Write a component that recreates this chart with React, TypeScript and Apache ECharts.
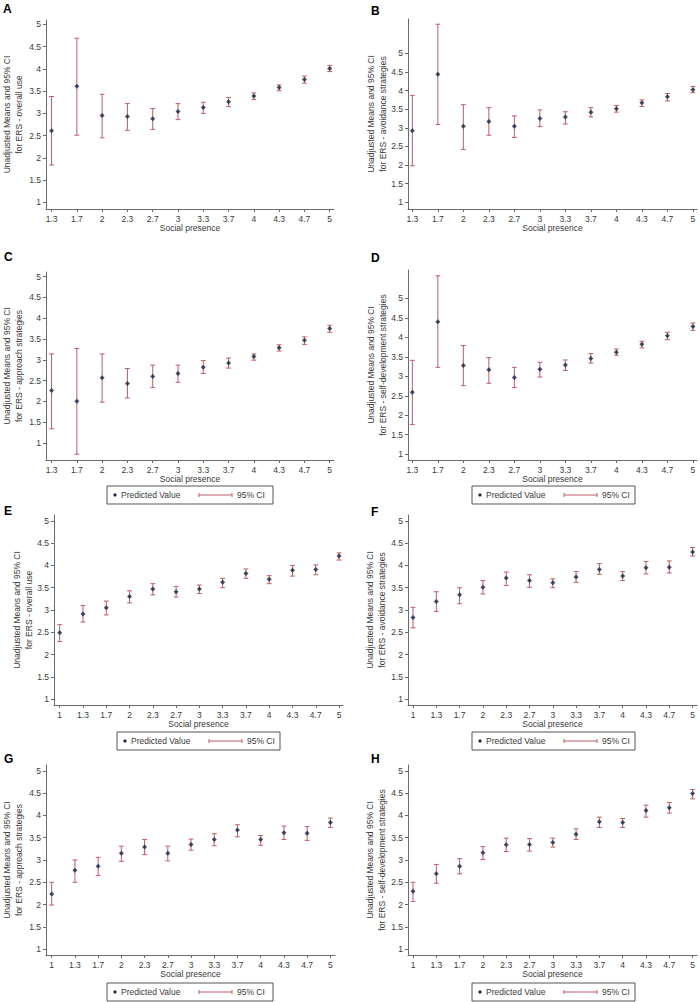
import React, { useEffect, useRef } from "react";
import * as echarts from "echarts";

const CATS_AD = ["1.3", "1.7", "2", "2.3", "2.7", "3", "3.3", "3.7", "4", "4.3", "4.7", "5"];
const CATS_EH = ["1", "1.3", "1.7", "2", "2.3", "2.7", "3", "3.3", "3.7", "4", "4.3", "4.7", "5"];
const Y_TICKS = [1, 1.5, 2, 2.5, 3, 3.5, 4, 4.5, 5];

const A_MEAN = [2.61, 3.61, 2.95, 2.93, 2.88, 3.04, 3.13, 3.26, 3.39, 3.58, 3.76, 4.01];
const A_LOW = [1.84, 2.51, 2.45, 2.62, 2.64, 2.86, 3.0, 3.15, 3.31, 3.51, 3.68, 3.94];
const A_HIGH = [3.38, 4.69, 3.43, 3.22, 3.11, 3.22, 3.25, 3.36, 3.46, 3.64, 3.84, 4.08];

const B_MEAN = [2.92, 4.44, 3.04, 3.17, 3.04, 3.25, 3.29, 3.42, 3.51, 3.67, 3.83, 4.02];
const B_LOW = [1.98, 3.09, 2.42, 2.8, 2.74, 3.03, 3.1, 3.29, 3.42, 3.57, 3.72, 3.94];
const B_HIGH = [3.87, 5.78, 3.62, 3.54, 3.32, 3.48, 3.43, 3.54, 3.6, 3.75, 3.92, 4.11];

const C_MEAN = [2.26, 2.0, 2.57, 2.43, 2.6, 2.67, 2.82, 2.92, 3.08, 3.29, 3.47, 3.75];
const C_LOW = [1.34, 0.73, 1.98, 2.08, 2.33, 2.46, 2.67, 2.8, 2.99, 3.21, 3.37, 3.66];
const C_HIGH = [3.14, 3.27, 3.14, 2.79, 2.87, 2.87, 2.98, 3.04, 3.14, 3.36, 3.55, 3.83];

const D_MEAN = [2.59, 4.4, 3.28, 3.17, 2.97, 3.18, 3.29, 3.46, 3.62, 3.82, 4.04, 4.28];
const D_LOW = [1.76, 3.23, 2.76, 2.82, 2.71, 2.98, 3.15, 3.34, 3.54, 3.73, 3.94, 4.18];
const D_HIGH = [3.41, 5.58, 3.79, 3.48, 3.23, 3.36, 3.42, 3.58, 3.7, 3.9, 4.13, 4.37];

const E_MEAN = [2.49, 2.91, 3.05, 3.3, 3.47, 3.41, 3.47, 3.62, 3.82, 3.69, 3.89, 3.91, 4.21];
const E_LOW = [2.29, 2.73, 2.89, 3.16, 3.34, 3.29, 3.37, 3.5, 3.71, 3.59, 3.76, 3.79, 4.12];
const E_HIGH = [2.67, 3.1, 3.2, 3.43, 3.59, 3.53, 3.56, 3.71, 3.92, 3.77, 4.0, 4.01, 4.28];

const F_MEAN = [2.83, 3.19, 3.34, 3.51, 3.72, 3.66, 3.61, 3.74, 3.91, 3.76, 3.95, 3.96, 4.3];
const F_LOW = [2.6, 2.97, 3.14, 3.36, 3.55, 3.51, 3.5, 3.62, 3.8, 3.66, 3.81, 3.83, 4.21];
const F_HIGH = [3.06, 3.41, 3.5, 3.66, 3.85, 3.79, 3.7, 3.86, 4.04, 3.86, 4.09, 4.1, 4.4];

const G_MEAN = [2.24, 2.77, 2.86, 3.15, 3.29, 3.15, 3.35, 3.46, 3.67, 3.46, 3.61, 3.6, 3.84];
const G_LOW = [1.99, 2.5, 2.65, 2.97, 3.12, 2.98, 3.22, 3.32, 3.52, 3.33, 3.46, 3.44, 3.73];
const G_HIGH = [2.5, 3.0, 3.06, 3.31, 3.46, 3.31, 3.47, 3.59, 3.79, 3.55, 3.76, 3.75, 3.94];

const H_MEAN = [2.3, 2.69, 2.86, 3.16, 3.34, 3.35, 3.39, 3.58, 3.86, 3.84, 4.11, 4.17, 4.49];
const H_LOW = [2.07, 2.48, 2.69, 3.01, 3.19, 3.2, 3.29, 3.46, 3.73, 3.73, 3.96, 4.05, 4.37];
const H_HIGH = [2.5, 2.9, 3.03, 3.3, 3.49, 3.48, 3.49, 3.7, 3.96, 3.93, 4.23, 4.29, 4.58];

const TITLE_1 = "Unadjusted Means and 95% CI";
const OUTCOMES = {
  overall: "for ERS - overall use",
  avoid: "for ERS - avoidance strategies",
  approach: "for ERS - approach strategies",
  self: "for ERS - self-development strategies",
};

const FONT = "Liberation Sans, Arial, sans-serif";
const TEXT_COLOR = "#3a3a3a";
const AXIS_COLOR = "#6a6a6a";
const CI_COLOR = "#c25a6b";
const PT_COLOR = "#1b2444";

type Panel = {
  letter: string;
  cats: string[];
  mean: number[];
  low: number[];
  high: number[];
  outcome: string;
  grid: { left: number; top: number; width: number; height: number };
  y: [number, number];
  x: [number, number];
  nameGap: number;
  legend?: { x: number; y: number; w: number };
};

const PANELS: Panel[] = [
  { letter: "A", cats: CATS_AD, mean: A_MEAN, low: A_LOW, high: A_HIGH, outcome: OUTCOMES.overall,
    grid: { left: 44, top: 20, width: 290, height: 189 }, y: [0.85, 5.1], x: [-0.22, 11.17], nameGap: 21 },
  { letter: "B", cats: CATS_AD, mean: B_MEAN, low: B_LOW, high: B_HIGH, outcome: OUTCOMES.avoid,
    grid: { left: 408, top: 19, width: 289, height: 190 }, y: [0.82, 5.92], x: [-0.17, 11.16], nameGap: 19 },
  { letter: "C", cats: CATS_AD, mean: C_MEAN, low: C_LOW, high: C_HIGH, outcome: OUTCOMES.approach,
    grid: { left: 44, top: 272, width: 290, height: 188 }, y: [0.59, 5.11], x: [-0.22, 11.17], nameGap: 21,
    legend: { x: 107, y: 486, w: 166 } },
  { letter: "D", cats: CATS_AD, mean: D_MEAN, low: D_LOW, high: D_HIGH, outcome: OUTCOMES.self,
    grid: { left: 408, top: 270, width: 289, height: 190 }, y: [0.85, 5.73], x: [-0.17, 11.16], nameGap: 19,
    legend: { x: 472, y: 486, w: 163 } },
  { letter: "E", cats: CATS_EH, mean: E_MEAN, low: E_LOW, high: E_HIGH, outcome: OUTCOMES.overall,
    grid: { left: 54, top: 515, width: 289, height: 190 }, y: [0.87, 5.13], x: [-0.245, 12.17], nameGap: 19,
    legend: { x: 117, y: 732, w: 163 } },
  { letter: "F", cats: CATS_EH, mean: F_MEAN, low: F_LOW, high: F_HIGH, outcome: OUTCOMES.avoid,
    grid: { left: 408, top: 515, width: 289, height: 190 }, y: [0.87, 5.13], x: [-0.215, 12.19], nameGap: 20,
    legend: { x: 472, y: 732, w: 163 } },
  { letter: "G", cats: CATS_EH, mean: G_MEAN, low: G_LOW, high: G_HIGH, outcome: OUTCOMES.approach,
    grid: { left: 44, top: 765, width: 291, height: 190 }, y: [0.87, 5.13], x: [-0.245, 12.2], nameGap: 21,
    legend: { x: 107, y: 983, w: 166 } },
  { letter: "H", cats: CATS_EH, mean: H_MEAN, low: H_LOW, high: H_HIGH, outcome: OUTCOMES.self,
    grid: { left: 408, top: 765, width: 289, height: 190 }, y: [0.87, 5.13], x: [-0.215, 12.19], nameGap: 20,
    legend: { x: 472, y: 983, w: 163 } },
];

const LETTER_POS: Record<string, [number, number]> = {
  A: [3, 3], B: [371, 5], C: [4, 251], D: [371, 252], E: [4, 505], F: [371, 506], G: [4, 753], H: [371, 753],
};

function legendGraphic(lx: number, ly: number, w: number) {
  const h = 18;
  const cy = ly + h / 2;
  const els: any[] = [
    { type: "rect", shape: { x: lx, y: ly, width: w, height: h }, style: { fill: "#fff", stroke: "#555", lineWidth: 1 } },
    { type: "circle", shape: { cx: lx + 8, cy, r: 1.6 }, style: { fill: PT_COLOR } },
    { type: "text", style: { text: "Predicted Value", x: lx + 14, y: cy, fill: TEXT_COLOR, fontSize: 8.5, fontFamily: FONT, verticalAlign: "middle" } },
    { type: "line", shape: { x1: lx + 92, y1: cy, x2: lx + 125, y2: cy }, style: { stroke: CI_COLOR, lineWidth: 1 } },
    { type: "line", shape: { x1: lx + 92, y1: cy - 2, x2: lx + 92, y2: cy + 2 }, style: { stroke: CI_COLOR, lineWidth: 1 } },
    { type: "line", shape: { x1: lx + 125, y1: cy - 2, x2: lx + 125, y2: cy + 2 }, style: { stroke: CI_COLOR, lineWidth: 1 } },
    { type: "text", style: { text: "95% CI", x: lx + 130, y: cy, fill: TEXT_COLOR, fontSize: 8.5, fontFamily: FONT, verticalAlign: "middle" } },
  ];
  return els;
}

function buildOption() {
  const grid: any[] = [];
  const xAxis: any[] = [];
  const yAxis: any[] = [];
  const series: any[] = [];
  const graphic: any[] = [];

  PANELS.forEach((p, i) => {
    grid.push({ ...p.grid, containLabel: false });
    const idx = p.cats.map((_, k) => k);
    xAxis.push({
      type: "value",
      gridIndex: i,
      min: p.x[0],
      max: p.x[1],
      name: "Social presence",
      nameLocation: "middle",
      nameGap: 14,
      nameMoveOverlap: false,
      nameTextStyle: { fontSize: 8.5, fontFamily: FONT, color: TEXT_COLOR },
      splitLine: { show: false },
      axisLine: { show: true, onZero: false, lineStyle: { color: AXIS_COLOR, width: 1 } },
      axisTick: { show: true, length: 3, lineStyle: { color: AXIS_COLOR }, customValues: idx },
      axisLabel: {
        fontSize: 8.5, fontFamily: FONT, color: TEXT_COLOR, margin: 5,
        customValues: idx,
        formatter: (v: number) => p.cats[Math.round(v)] ?? "",
      },
    });
    yAxis.push({
      type: "value",
      gridIndex: i,
      min: p.y[0],
      max: p.y[1],
      name: TITLE_1 + "\n" + p.outcome,
      nameLocation: "middle",
      nameGap: p.nameGap,
      nameMoveOverlap: false,
      nameTextStyle: { fontSize: 8.5, fontFamily: FONT, color: TEXT_COLOR, lineHeight: 12 },
      splitLine: { show: false },
      axisLine: { show: true, onZero: false, lineStyle: { color: AXIS_COLOR, width: 1 } },
      axisTick: { show: true, length: 3, lineStyle: { color: AXIS_COLOR }, customValues: Y_TICKS },
      axisLabel: { fontSize: 8.5, fontFamily: FONT, color: TEXT_COLOR, margin: 5, customValues: Y_TICKS },
    });
    series.push({
      type: "custom",
      xAxisIndex: i,
      yAxisIndex: i,
      data: idx.map((k) => [k, p.low[k], p.high[k]]),
      encode: { x: 0, y: [1, 2] },
      renderItem: (_params: any, api: any) => {
        const x = api.value(0);
        const lo = api.coord([x, api.value(1)]);
        const hi = api.coord([x, api.value(2)]);
        const w = 2.4;
        const st = { stroke: CI_COLOR, lineWidth: 1 };
        return {
          type: "group",
          children: [
            { type: "line", shape: { x1: lo[0], y1: lo[1], x2: hi[0], y2: hi[1] }, style: st },
            { type: "line", shape: { x1: lo[0] - w, y1: lo[1], x2: lo[0] + w, y2: lo[1] }, style: st },
            { type: "line", shape: { x1: hi[0] - w, y1: hi[1], x2: hi[0] + w, y2: hi[1] }, style: st },
          ],
        };
      },
      z: 2,
    });
    series.push({
      type: "scatter",
      xAxisIndex: i,
      yAxisIndex: i,
      data: idx.map((k) => [k, p.mean[k]]),
      symbol: "diamond",
      symbolSize: 5,
      itemStyle: { color: PT_COLOR },
      z: 3,
    });
    const lp = LETTER_POS[p.letter];
    graphic.push({
      type: "text",
      style: { text: p.letter, x: lp[0], y: lp[1], fill: "#000", fontSize: 12, fontWeight: "bold", fontFamily: FONT },
    });
    if (p.legend) graphic.push(...legendGraphic(p.legend.x, p.legend.y, p.legend.w));
  });

  return {
    animation: false,
    backgroundColor: "#fff",
    grid,
    xAxis,
    yAxis,
    series,
    graphic,
  };
}

export default function App() {
  const ref = useRef<HTMLDivElement>(null);
  useEffect(() => {
    if (!ref.current) return;
    const chart = echarts.init(ref.current, undefined, { renderer: "svg" });
    chart.setOption(buildOption() as any);
    return () => chart.dispose();
  }, []);
  return (
    <div
      ref={ref}
      style={{ position: "absolute", left: 0, top: 0, width: 700, height: 1002, background: "#fff" }}
    />
  );
}
